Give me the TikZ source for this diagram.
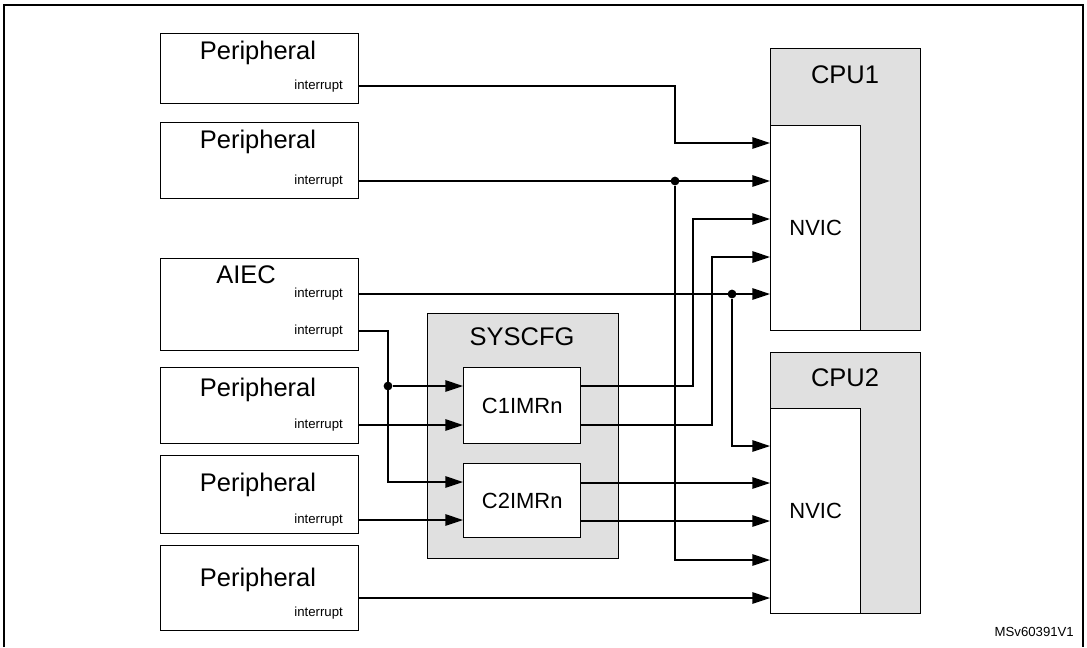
\documentclass[tikz,border=0pt]{standalone}
\usepackage{fontspec}
\setmainfont{Liberation Sans}
\usetikzlibrary{arrows.meta, positioning}

\begin{document}
\begin{tikzpicture}[x=0.02cm, y=-0.02cm,
    blk/.style={draw, thick, fill=white, inner sep=0pt},
    grp/.style={draw, thick, fill=black!12, inner sep=0pt},
    ttl/.style={font=\fontsize{14.5}{14.5}\selectfont},
    mid/.style={font=\fontsize{12.5}{12.5}\selectfont},
    irq/.style={font=\fontsize{7.5}{7.5}\selectfont, anchor=east},
    wire/.style={thick, -{Triangle[length=10pt, width=6.5pt]}},
    dot/.style={circle, fill, inner sep=0pt, minimum size=5pt}
    ]
    \useasboundingbox (0,0) rectangle (1087,647);
    \draw[thick] (4,647) -- (4,5) -- (1083,5) -- (1083,647);

    % peripherals
    \foreach \n/\t/\b in {p1/33/103, p2/122/198, aiec/258/350, p4/367/443, p5/455/533, p6/545/630}
      \node[blk, minimum width=198*0.02cm, minimum height={(\b-\t)*0.02cm}, anchor=north west] (\n) at (160,\t) {};
    \foreach \n/\y in {p1/53, p2/142, p4/390, p5/485, p6/580}
      \node[ttl] at (258,\y) {Peripheral};
    \node[ttl] at (246,275) {AIEC};
    \foreach \n/\y in {p1/86, p2/181, aiec/294, aiec/331, p4/425, p5/520, p6/613}
      \node[irq] at (349,\y) {interrupt};

    % SYSCFG
    \node[grp, minimum width=191*0.02cm, minimum height=245*0.02cm, anchor=north west] (sys) at (427,313) {};
    \node[ttl] at (522,337) {SYSCFG};
    \node[blk, mid, minimum width=117*0.02cm, minimum height=76*0.02cm, anchor=north west] (c1) at (463,367) {C1IMRn};
    \node[blk, mid, minimum width=117*0.02cm, minimum height=74*0.02cm, anchor=north west] (c2) at (463,463) {C2IMRn};

    % CPUs
    \node[grp, minimum width=150*0.02cm, minimum height=282*0.02cm, anchor=north west] (cpu1) at (770,48) {};
    \node[ttl] at (845,75) {CPU1};
    \node[blk, mid, minimum width=90*0.02cm, minimum height=205*0.02cm, anchor=north west] (nvic1) at (770,125) {NVIC};
    \node[grp, minimum width=150*0.02cm, minimum height=261*0.02cm, anchor=north west] (cpu2) at (770,352) {};
    \node[ttl] at (845,378) {CPU2};
    \node[blk, mid, minimum width=90*0.02cm, minimum height=205*0.02cm, anchor=north west] (nvic2) at (770,408) {NVIC};

    % connections
    \draw[wire] (p1.east |- 0,86) -| (675,143) -- (nvic1.west |- 0,143);
    \draw[wire] (p2.east |- 0,181) -- (nvic1.west |- 0,181);
    \node[dot] (d1) at (675,181) {};
    \draw[wire] (d1) |- (nvic2.west |- 0,560);
    \draw[wire] (aiec.east |- 0,294) -- (nvic1.west |- 0,294);
    \node[dot] (d2) at (732,294) {};
    \draw[wire] (d2) |- (nvic2.west |- 0,446);
    \draw[wire] (aiec.east |- 0,331) -| (388,482) -- (c2.west |- 0,482);
    \node[dot] (d3) at (388,386) {};
    \draw[wire] (d3) -- (c1.west |- 0,386);
    \draw[wire] (p4.east |- 0,425) -- (c1.west |- 0,425);
    \draw[wire] (p5.east |- 0,520) -- (c2.west |- 0,520);
    \draw[wire] (c1.east |- 0,386) -| (693,219) -- (nvic1.west |- 0,219);
    \draw[wire] (c1.east |- 0,425) -| (712,257) -- (nvic1.west |- 0,257);
    \draw[wire] (c2.east |- 0,483) -- (nvic2.west |- 0,483);
    \draw[wire] (c2.east |- 0,521) -- (nvic2.west |- 0,521);
    \draw[wire] (p6.east |- 0,598) -- (nvic2.west |- 0,598);

    \node[font=\fontsize{7.5}{7.5}\selectfont, anchor=east] at (1080,632) {MSv60391V1};
\end{tikzpicture}
\end{document}
